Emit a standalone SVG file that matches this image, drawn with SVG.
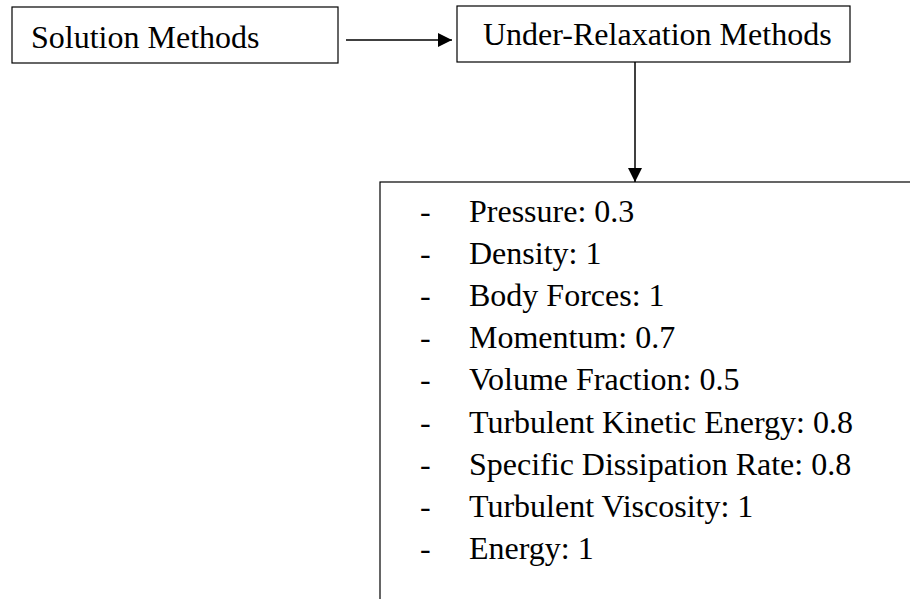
<svg xmlns="http://www.w3.org/2000/svg" width="910" height="599" viewBox="0 0 910 599">
  <style>
    .box { fill: #ffffff; stroke: #000000; stroke-width: 1.2; }
    .label { font-family: "Liberation Serif", "Times New Roman", serif; font-size: 32px; fill: #000000; }
    .conn { stroke: #000000; stroke-width: 1.5; fill: none; }
  </style>
  <defs>
    <marker id="arrow" viewBox="0 0 14 14" refX="14" refY="7" markerWidth="14" markerHeight="14" markerUnits="userSpaceOnUse" orient="auto">
      <path d="M0,0 L14,7 L0,14 Z" fill="#000000"/>
    </marker>
  </defs>
  <rect width="910" height="599" fill="#ffffff"/>

  <g id="solution-methods">
    <rect class="box" x="12" y="7" width="326" height="56"/>
    <text class="label" x="31" y="48">Solution Methods</text>
  </g>

  <g id="under-relaxation-methods">
    <rect class="box" x="457" y="6" width="393" height="56"/>
    <text class="label" x="483" y="45">Under-Relaxation Methods</text>
  </g>

  <g id="factors">
    <rect class="box" x="380" y="182" width="540" height="430"/>
    <g class="label">
      <text x="420" y="222">-</text><text x="469" y="222">Pressure: 0.3</text>
      <text x="420" y="264">-</text><text x="469" y="264">Density: 1</text>
      <text x="420" y="306">-</text><text x="469" y="306">Body Forces: 1</text>
      <text x="420" y="348">-</text><text x="469" y="348">Momentum: 0.7</text>
      <text x="420" y="390">-</text><text x="469" y="390">Volume Fraction: 0.5</text>
      <text x="420" y="433">-</text><text x="469" y="433">Turbulent Kinetic Energy: 0.8</text>
      <text x="420" y="475">-</text><text x="469" y="475">Specific Dissipation Rate: 0.8</text>
      <text x="420" y="517">-</text><text x="469" y="517">Turbulent Viscosity: 1</text>
      <text x="420" y="559">-</text><text x="469" y="559">Energy: 1</text>
    </g>
  </g>

  <g id="connectors">
    <line class="conn" x1="346" y1="40" x2="452" y2="40" marker-end="url(#arrow)"/>
    <line class="conn" x1="635" y1="62" x2="635" y2="182" marker-end="url(#arrow)"/>
  </g>
</svg>
